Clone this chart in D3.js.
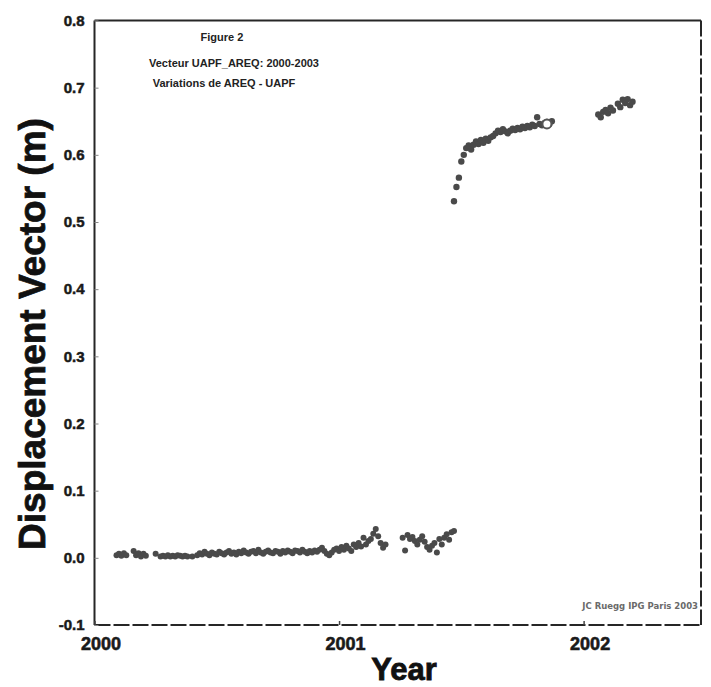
<!DOCTYPE html>
<html>
<head>
<meta charset="utf-8">
<script src="https://cdn.jsdelivr.net/npm/d3@7/dist/d3.min.js"></script>
<style>
  html, body { margin: 0; padding: 0; background: #fff; }
  svg { display: block; }
  text { font-family: "Liberation Sans", Arial, sans-serif; font-weight: bold; }
</style>
</head>
<body>
<svg id="chart" width="711" height="687"></svg>
<script>
// Displacement vector AREQ - UAPF (m), decimal years
const yearTicks = [2000, 2001, 2002];
const yearTickLabels = ["2000", "2001", "2002"];
const dispTicks = [-0.1, 0.0, 0.1, 0.2, 0.3, 0.4, 0.5, 0.6, 0.7, 0.8];
const dispTickLabels = ["-0.1", "0.0", "0.1", "0.2", "0.3", "0.4", "0.5", "0.6", "0.7", "0.8"];

// Before the June 2001 earthquake
const preTimes = [
  2000.09, 2000.10, 2000.11, 2000.12, 2000.13, 2000.16,
  2000.17, 2000.18, 2000.19, 2000.20, 2000.21, 2000.25,
  2000.27, 2000.28, 2000.29, 2000.30, 2000.31, 2000.32, 2000.33, 2000.34, 2000.35, 2000.36, 2000.37, 2000.38,
  2000.40,
  2000.42, 2000.43, 2000.44, 2000.45, 2000.46, 2000.47, 2000.48, 2000.49, 2000.50, 2000.51,
  2000.52, 2000.53, 2000.54, 2000.55, 2000.56, 2000.57, 2000.58, 2000.59, 2000.60, 2000.61,
  2000.62, 2000.63, 2000.64, 2000.65, 2000.66, 2000.67, 2000.68, 2000.69, 2000.70, 2000.71,
  2000.72, 2000.73, 2000.74, 2000.75, 2000.76, 2000.77, 2000.78, 2000.79, 2000.80, 2000.81,
  2000.82, 2000.83, 2000.84, 2000.85, 2000.86, 2000.87, 2000.88, 2000.89, 2000.90, 2000.91,
  2000.92, 2000.93, 2000.94, 2000.95, 2000.96, 2000.97, 2000.98, 2000.99, 2001.00, 2001.01,
  2001.02, 2001.03, 2001.04, 2001.05, 2001.06, 2001.07, 2001.08, 2001.09, 2001.10, 2001.11,
  2001.12, 2001.13, 2001.14, 2001.15, 2001.16, 2001.17, 2001.18, 2001.19,
  2001.26, 2001.27, 2001.28, 2001.29, 2001.30, 2001.31, 2001.32, 2001.33, 2001.34, 2001.35,
  2001.36, 2001.37, 2001.38, 2001.39, 2001.40, 2001.41, 2001.42, 2001.43, 2001.44, 2001.45,
  2001.46, 2001.47
];
const preValues = [
  0.004, 0.006, 0.003, 0.007, 0.004, 0.010,
  0.004, 0.007, 0.002, 0.006, 0.003, 0.006,
  0.002, 0.003, 0.002, 0.004, 0.002, 0.003, 0.002, 0.004, 0.003, 0.002, 0.003, 0.002,
  0.002,
  0.004, 0.007, 0.005, 0.009, 0.006, 0.004, 0.008, 0.006, 0.005, 0.009,
  0.007, 0.005, 0.008, 0.010, 0.006, 0.008, 0.005, 0.009, 0.007, 0.011,
  0.008, 0.006, 0.009, 0.010, 0.007, 0.012, 0.008, 0.006, 0.009, 0.011,
  0.008, 0.007, 0.010, 0.009, 0.006, 0.010, 0.008, 0.011, 0.009, 0.007,
  0.011, 0.010, 0.008, 0.012, 0.009, 0.007, 0.010, 0.008, 0.011, 0.009,
  0.012, 0.015, 0.010, 0.006, 0.004, 0.008, 0.012, 0.014, 0.010, 0.016,
  0.012, 0.018, 0.014, 0.010, 0.020, 0.016, 0.022, 0.017, 0.030, 0.020,
  0.025, 0.028, 0.036, 0.043, 0.032, 0.022, 0.015, 0.020,
  0.030, 0.011, 0.034, 0.028, 0.031, 0.025, 0.020, 0.027, 0.032, 0.024,
  0.016, 0.012, 0.018, 0.022, 0.008, 0.028, 0.020, 0.030, 0.035, 0.027,
  0.038, 0.040
];

// After the earthquake
const postTimes = [
  2001.47, 2001.48, 2001.49, 2001.50, 2001.51, 2001.52, 2001.53, 2001.54, 2001.55, 2001.56,
  2001.57, 2001.58, 2001.59, 2001.60, 2001.61, 2001.62, 2001.63, 2001.64, 2001.65, 2001.66,
  2001.67, 2001.68, 2001.69, 2001.70, 2001.71, 2001.72, 2001.73, 2001.74, 2001.75, 2001.76,
  2001.77, 2001.78, 2001.79, 2001.80, 2001.81, 2001.82, 2001.83, 2001.84, 2001.85, 2001.86,
  2001.87,
  2002.06, 2002.07, 2002.08, 2002.09, 2002.10, 2002.11, 2002.12,
  2002.14, 2002.15, 2002.16, 2002.17, 2002.18, 2002.19, 2002.20
];
const postValues = [
  0.531, 0.552, 0.566, 0.590, 0.600, 0.610, 0.614, 0.608, 0.615, 0.620,
  0.616, 0.622, 0.618, 0.624, 0.621, 0.626, 0.628, 0.632, 0.636, 0.634,
  0.638, 0.635, 0.632, 0.636, 0.639, 0.637, 0.640, 0.638, 0.642, 0.640,
  0.643, 0.641, 0.645, 0.643, 0.656, 0.646, 0.644, 0.647, 0.649, 0.646,
  0.650,
  0.660, 0.656, 0.664, 0.667, 0.662, 0.670, 0.666,
  0.676, 0.671, 0.682, 0.677, 0.683, 0.674, 0.679
];

// Highlighted epoch (open circle)
const markTimes = [2001.85];
const markValues = [0.646];

const titleLines = ["Figure 2", "Vecteur UAPF_AREQ: 2000-2003", "Variations de AREQ - UAPF"];
const creditText = "JC Ruegg   IPG Paris   2003";

const svg = d3.select("#chart");
const plotLeft = 94.5, plotRight = 701, plotTop = 20.5, plotBottom = 625;

const x = d3.scaleLinear().domain([2000, 2002.48]).range([plotLeft, plotRight]);
const y = d3.scaleLinear().domain([-0.1, 0.8]).range([plotBottom, plotTop]);

// Frame: solid left/top, dashed right/bottom
const frame = svg.append("g").attr("stroke", "#262626").attr("stroke-width", 2).attr("fill", "none");
frame.append("line").attr("x1", plotLeft).attr("x2", plotLeft).attr("y1", plotTop).attr("y2", plotBottom);
frame.append("line").attr("x1", plotLeft).attr("x2", plotRight).attr("y1", plotTop).attr("y2", plotTop);
frame.append("line").attr("x1", plotRight).attr("x2", plotRight).attr("y1", plotTop).attr("y2", plotBottom)
  .attr("stroke-dasharray", "16,3");
frame.append("line").attr("x1", plotLeft).attr("x2", plotRight).attr("y1", plotBottom).attr("y2", plotBottom)
  .attr("stroke-dasharray", "16,3");

// Y axis
const yAxis = d3.axisLeft(y)
  .tickValues(dispTicks)
  .tickSize(-4)
  .tickPadding(10)
  .tickFormat((d, i) => dispTickLabels[i]);
const gy = svg.append("g").attr("transform", `translate(${plotLeft},0)`).call(yAxis);
gy.select(".domain").remove();
gy.selectAll(".tick line").attr("stroke", "#888").attr("stroke-width", 1);
gy.selectAll(".tick text")
  .attr("font-size", 15).attr("fill", "#1a1a1a")
  .attr("font-family", "Liberation Sans, Arial, sans-serif").attr("font-weight", "bold")
  .attr("stroke", "#1a1a1a").attr("stroke-width", 0.5);

// X axis
const xAxis = d3.axisBottom(x)
  .tickValues(yearTicks)
  .tickSize(-4)
  .tickPadding(12)
  .tickFormat((d, i) => yearTickLabels[i]);
const gx = svg.append("g").attr("transform", `translate(0,${plotBottom})`).call(xAxis);
gx.select(".domain").remove();
gx.selectAll(".tick line").attr("stroke", "#444").attr("stroke-width", 1.5);
gx.selectAll(".tick text")
  .attr("dx", 6)
  .attr("font-size", 18).attr("fill", "#1a1a1a")
  .attr("font-family", "Liberation Sans, Arial, sans-serif").attr("font-weight", "bold")
  .attr("stroke", "#1a1a1a").attr("stroke-width", 0.6);

// Axis titles
svg.append("text")
  .attr("x", 404).attr("y", 680)
  .attr("text-anchor", "middle")
  .attr("font-size", 31).attr("fill", "#111")
  .attr("stroke", "#111").attr("stroke-width", 0.8)
  .text("Year");

svg.append("text")
  .attr("transform", "translate(45,334) rotate(-90)")
  .attr("text-anchor", "middle")
  .attr("font-size", 37).attr("fill", "#111")
  .attr("stroke", "#111").attr("stroke-width", 0.8)
  .text("Displacement Vector (m)");

// Caption lines inside plot
const caption = svg.append("g").attr("fill", "#222").attr("font-size", 11)
  .style("font-family", "'DejaVu Sans', sans-serif");
caption.append("text").attr("x", 222).attr("y", 41).attr("text-anchor", "middle").text(titleLines[0]);
caption.append("text").attr("x", 234).attr("y", 67).attr("text-anchor", "middle").text(titleLines[1]);
caption.append("text").attr("x", 224).attr("y", 87).attr("text-anchor", "middle").text(titleLines[2]);

svg.append("text")
  .attr("x", 698).attr("y", 609)
  .attr("text-anchor", "end")
  .attr("font-size", 8.5).attr("fill", "#6a6a6a")
  .style("font-family", "'DejaVu Sans', sans-serif")
  .text(creditText);

// Data points
const pre = preTimes.map((t, i) => ({ t, v: preValues[i] }));
const post = postTimes.map((t, i) => ({ t, v: postValues[i] }));
const pts = svg.append("g").attr("fill", "#4a4a4a");
pts.selectAll("circle.pre").data(pre).join("circle")
  .attr("class", "pre")
  .attr("cx", d => x(d.t)).attr("cy", d => y(d.v)).attr("r", 3);
pts.selectAll("circle.post").data(post).join("circle")
  .attr("class", "post")
  .attr("cx", d => x(d.t)).attr("cy", d => y(d.v)).attr("r", 3.2);

svg.append("g").selectAll("circle").data(markTimes.map((t, i) => ({ t, v: markValues[i] }))).join("circle")
  .attr("cx", d => x(d.t)).attr("cy", d => y(d.v)).attr("r", 4.5)
  .attr("fill", "#fff").attr("stroke", "#555").attr("stroke-width", 2);
</script>
</body>
</html>
